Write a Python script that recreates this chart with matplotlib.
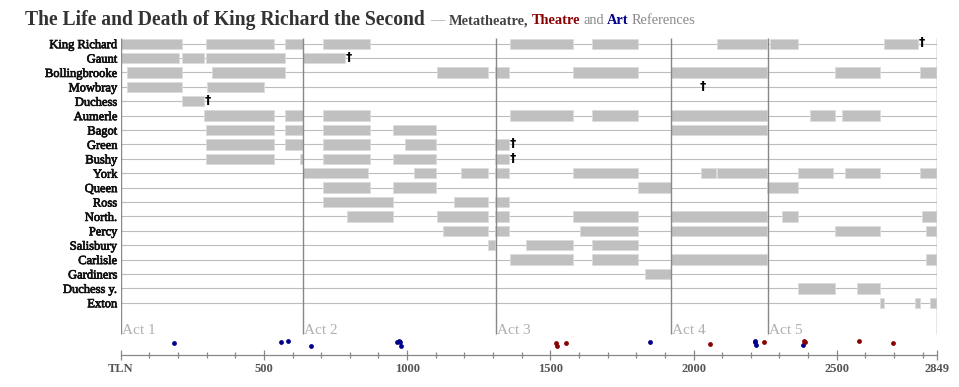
import matplotlib
matplotlib.use('Agg')
import matplotlib.pyplot as plt
import matplotlib.patheffects as pe
from matplotlib.ticker import MultipleLocator

plt.rcParams['font.family'] = ['Liberation Serif', 'DejaVu Serif']

# characters from top to bottom
characters = ['King Richard', 'Gaunt', 'Bollingbrooke', 'Mowbray', 'Duchess',
              'Aumerle', 'Bagot', 'Green', 'Bushy', 'York', 'Queen', 'Ross',
              'North.', 'Percy', 'Salisbury', 'Carlisle', 'Gardiners',
              'Duchess y.', 'Exton']

# time on stage, (first TLN, last TLN)
richard = [(0, 215), (298, 536), (573, 637), (707, 870), (1359, 1580), (1646, 1805),
           (2081, 2258), (2267, 2364), (2664, 2785)]
gaunt = [(0, 204), (215, 291), (298, 574), (638, 783)]
bollingbrooke = [(22, 215), (320, 574), (1103, 1282), (1308, 1356), (1580, 1805),
                 (1920, 2258), (2495, 2652), (2791, 2847)]
mowbray = [(22, 215), (300, 500)]
duchess = [(215, 291)]
aumerle = [(291, 536), (574, 638), (707, 870), (1359, 1580), (1646, 1805),
           (1920, 2258), (2407, 2495), (2517, 2652)]
bagot = [(298, 536), (574, 638), (707, 870), (951, 1102), (1920, 2258)]
green = [(298, 536), (574, 638), (707, 870), (992, 1102), (1308, 1356)]
bushy = [(298, 536), (627, 638), (707, 870), (951, 1102), (1308, 1356)]
york = [(638, 864), (1025, 1102), (1189, 1282), (1308, 1356), (1580, 1805),
        (2025, 2078), (2082, 2258), (2365, 2487), (2529, 2652), (2791, 2847)]
queen = [(707, 870), (951, 1102), (1806, 1920), (2258, 2364)]
ross = [(707, 950), (1164, 1282), (1308, 1356)]
north = [(790, 950), (1103, 1282), (1308, 1356), (1580, 1805), (1920, 2258),
         (2310, 2364), (2797, 2847)]
percy = [(1125, 1282), (1308, 1356), (1604, 1805), (1920, 2258), (2495, 2652),
         (2812, 2847)]
salisbury = [(1282, 1308), (1416, 1580), (1646, 1805)]
carlisle = [(1359, 1580), (1646, 1805), (1920, 2258), (2812, 2847)]
gardiners = [(1831, 1920)]
duchess_y = [(2365, 2495), (2572, 2652)]
exton = [(2651, 2664), (2773, 2791), (2826, 2847)]

presence = [richard, gaunt, bollingbrooke, mowbray, duchess, aumerle, bagot, green,
            bushy, york, queen, ross, north, percy, salisbury, carlisle, gardiners,
            duchess_y, exton]

# deaths
death_who = ['King Richard', 'Gaunt', 'Mowbray', 'Duchess', 'Green', 'Bushy']
death_tln = [2786, 784, 2021, 292, 1357, 1357]

# acts
act_names = ['Act 1', 'Act 2', 'Act 3', 'Act 4', 'Act 5']
act_start = [0, 637, 1309, 1920, 2259]
play_end = 2849

# references (TLN, lane below the acts)
theatre_tln = [1520, 1522, 1556, 2056, 2245, 2387, 2389, 2579, 2696]
theatre_lane = [20.82, 20.99, 20.82, 20.89, 20.75, 20.66, 20.75, 20.66, 20.82]
art_tln = [186, 560, 584, 663, 964, 972, 975, 979, 1849, 2214, 2216, 2218, 2382]
art_lane = [20.82, 20.75, 20.66, 20.99, 20.73, 20.66, 20.71, 20.99, 20.75,
            20.66, 20.75, 20.94, 20.92]

tick_pos = [0, 500, 1000, 1500, 2000, 2500, 2849]
tick_lbl = ['TLN', '500', '1000', '1500', '2000', '2500', '2849']

bar_color = '#c0c0c0'
theatre_color = '#8b0000'
art_color = '#00008b'

fig = plt.figure(figsize=(9.59, 3.87), dpi=100)
ax = fig.add_axes([120.7 / 959, 1 - 355 / 387, 816 / 959, 325 / 387])
ax.set_xlim(0, play_end)
ax.set_ylim(21.63, -0.952)

# row guides and stage bars
rows = range(len(characters))
ax.hlines(rows, 0, play_end, color='#bdbdbd', lw=0.8, zorder=1)
for i, spans in enumerate(presence):
    ax.broken_barh([(s, e - s) for s, e in spans], (i - 0.36, 0.72),
                   facecolors=bar_color, edgecolors='#dcdcdc', linewidth=0.6, zorder=2)

for who, t in zip(death_who, death_tln):
    ax.text(t, characters.index(who) - 0.05, '\u2020', ha='left', va='center',
            fontsize=9, fontweight='bold', family='DejaVu Sans', color='black', zorder=4)

# act boundaries
ax.vlines(act_start + [play_end], -0.375, 20.19, color='#888888', lw=1, zorder=3)
ax.vlines([play_end + 6], -0.375, 20.19, color='#888888', lw=1, zorder=3)
for name, t in zip(act_names, act_start):
    ax.text(t + 4, 20.18, name, ha='left', va='baseline', fontsize=11,
            color='#b0b0b0')

ax.scatter(art_tln, art_lane, s=12, color=art_color, zorder=5, linewidths=0)
ax.scatter(theatre_tln, theatre_lane, s=12, color=theatre_color, zorder=5, linewidths=0)

# axes styling
heavy = [pe.withStroke(linewidth=0.5, foreground='#111111')]
for side in ['top', 'left', 'right']:
    ax.spines[side].set_visible(False)
ax.spines['bottom'].set_color('#888888')
ax.spines['bottom'].set_linewidth(0.9)
ax.set_yticks(list(rows))
ax.set_yticklabels(characters, fontsize=9, color='#111111')
for lbl in ax.get_yticklabels():
    lbl.set_path_effects(heavy)
ax.tick_params(axis='y', length=0, pad=2.5)
ax.set_xticks(tick_pos)
ax.set_xticklabels(tick_lbl, fontsize=9, fontweight='bold', color='#555555')
ax.xaxis.set_minor_locator(MultipleLocator(100))
ax.tick_params(axis='x', which='major', direction='inout', length=6.5, width=0.9,
               color='#888888', pad=2.5)
ax.tick_params(axis='x', which='minor', direction='inout', length=4, width=0.9,
               color='#888888')

# title made of coloured pieces
title_parts = [
    ('The Life and Death of King Richard the Second', 14.1, 'bold', '#333333', 5),
    ('\u2014', 10.4, 'normal', '#aaaaaa', 5),
    ('Metatheatre,', 10.4, 'bold', '#444444', 3),
    ('Theatre', 10.4, 'bold', theatre_color, 3),
    ('and', 10.4, 'normal', '#888888', 3),
    ('Art', 10.4, 'bold', art_color, 3),
    ('References', 10.4, 'normal', '#888888', 0),
]
renderer = fig.canvas.get_renderer()
x = 25
for text, size, weight, color, gap in title_parts:
    t = fig.text(x / 959, 1 - 24.5 / 387, text, fontsize=size, fontweight=weight,
                 color=color, va='baseline', ha='left')
    x = t.get_window_extent(renderer).x1 + gap

fig.savefig('out.png', dpi=100)
